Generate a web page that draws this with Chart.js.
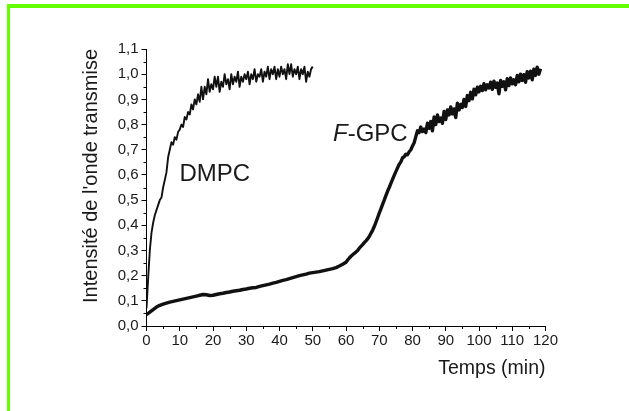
<!DOCTYPE html>
<html>
<head>
<meta charset="utf-8">
<script src="https://cdn.jsdelivr.net/npm/chart.js@4"></script>
<style>
  html, body { margin: 0; padding: 0; background: #fff; }
  #frame { position: absolute; left: 7px; top: 4px; width: 622px; height: 407px;
           border-top: 4px solid #63ff00; border-left: 3px solid #63ff00; box-sizing: border-box; }
  #c { position: absolute; left: 0; top: 0; }
</style>
</head>
<body>
<div id="frame"></div>
<canvas id="c" width="629" height="411"></canvas>
<script>
// DMPC, sampled every 0.5 min
const dmpcTimes = [
  0, 0.5, 1, 1.5, 2, 2.5, 3, 3.5, 4, 4.5, 5, 5.5, 6, 6.5, 7, 7.5, 8, 8.5, 9, 9.5,
  10, 10.5, 11, 11.5, 12, 12.5, 13, 13.5, 14, 14.5, 15, 15.5, 16, 16.5, 17, 17.5, 18, 18.5, 19, 19.5,
  20, 20.5, 21, 21.5, 22, 22.5, 23, 23.5, 24, 24.5, 25, 25.5, 26, 26.5, 27, 27.5, 28, 28.5, 29, 29.5,
  30, 30.5, 31, 31.5, 32, 32.5, 33, 33.5, 34, 34.5, 35, 35.5, 36, 36.5, 37, 37.5, 38, 38.5, 39, 39.5,
  40, 40.5, 41, 41.5, 42, 42.5, 43, 43.5, 44, 44.5, 45, 45.5, 46, 46.5, 47, 47.5, 48, 48.5, 49, 49.5,
  50
];
const dmpcValues = [
  0.07, 0.19, 0.30, 0.37, 0.41, 0.44, 0.46, 0.48, 0.50, 0.51, 0.55, 0.58, 0.61, 0.67, 0.70, 0.73, 0.72, 0.75, 0.74, 0.77,
  0.78, 0.80, 0.79, 0.83, 0.82, 0.85, 0.84, 0.88, 0.86, 0.90, 0.88, 0.92, 0.89, 0.95, 0.90, 0.95, 0.92, 0.98, 0.93, 0.96,
  0.94, 0.99, 0.95, 0.99, 0.93, 0.97, 0.95, 1.00, 0.96, 0.98, 0.94, 1.00, 0.96, 0.99, 0.97, 1.01, 0.95, 0.99, 0.97, 1.00,
  0.98, 1.01, 0.96, 1.00, 0.98, 1.02, 0.97, 1.00, 0.99, 1.02, 0.97, 1.01, 0.99, 1.03, 0.98, 1.02, 1.00, 1.03, 0.98, 1.02,
  0.99, 1.03, 1.00, 1.02, 0.98, 1.04, 1.00, 1.04, 0.99, 1.02, 1.00, 1.03, 0.98, 1.02, 1.00, 1.03, 0.97, 1.01, 0.99, 1.02,
  1.03
];

// F-GPC, every 1 min up to 60, then every 0.5 min
const fgpcTimes = [
  0, 1, 2, 3, 4, 5, 6, 7, 8, 9, 10, 11, 12, 13, 14, 15, 16, 17, 18, 19,
  20, 21, 22, 23, 24, 25, 26, 27, 28, 29, 30, 31, 32, 33, 34, 35, 36, 37, 38, 39,
  40, 41, 42, 43, 44, 45, 46, 47, 48, 49, 50, 51, 52, 53, 54, 55, 56, 57, 58, 59,
  60, 60.5, 61, 61.5, 62, 62.5, 63, 63.5, 64, 64.5, 65, 65.5, 66, 66.5, 67, 67.5, 68, 68.5, 69, 69.5,
  70, 70.5, 71, 71.5, 72, 72.5, 73, 73.5, 74, 74.5, 75, 75.5, 76, 76.5, 77, 77.5, 78, 78.5, 79, 79.5,
  80, 80.5, 81, 81.5, 82, 82.5, 83, 83.5, 84, 84.5, 85, 85.5, 86, 86.5, 87, 87.5, 88, 88.5, 89, 89.5,
  90, 90.5, 91, 91.5, 92, 92.5, 93, 93.5, 94, 94.5, 95, 95.5, 96, 96.5, 97, 97.5, 98, 98.5, 99, 99.5,
  100, 100.5, 101, 101.5, 102, 102.5, 103, 103.5, 104, 104.5, 105, 105.5, 106, 106.5, 107, 107.5, 108, 108.5, 109, 109.5,
  110, 110.5, 111, 111.5, 112, 112.5, 113, 113.5, 114, 114.5, 115, 115.5, 116, 116.5, 117, 117.5, 118, 118.5
];
const fgpcValues = [
  0.045, 0.055, 0.065, 0.075, 0.082, 0.087, 0.091, 0.095, 0.098, 0.101, 0.104, 0.107, 0.110, 0.113, 0.116, 0.119, 0.122, 0.125, 0.124, 0.121,
  0.122, 0.125, 0.128, 0.130, 0.133, 0.135, 0.138, 0.140, 0.142, 0.145, 0.147, 0.150, 0.152, 0.153, 0.157, 0.160, 0.163, 0.166, 0.170, 0.173,
  0.177, 0.181, 0.184, 0.188, 0.192, 0.196, 0.200, 0.203, 0.206, 0.210, 0.212, 0.214, 0.216, 0.219, 0.222, 0.225, 0.228, 0.232, 0.238, 0.245,
  0.253, 0.262, 0.270, 0.277, 0.283, 0.288, 0.294, 0.300, 0.309, 0.316, 0.323, 0.331, 0.338, 0.346, 0.355, 0.368, 0.380, 0.395, 0.412, 0.430,
  0.448, 0.465, 0.483, 0.500, 0.518, 0.535, 0.550, 0.566, 0.582, 0.598, 0.613, 0.628, 0.642, 0.652, 0.668, 0.672, 0.682, 0.680, 0.692, 0.700,
  0.715, 0.728, 0.752, 0.775, 0.768, 0.790, 0.772, 0.782, 0.768, 0.805, 0.785, 0.812, 0.775, 0.830, 0.800, 0.838, 0.812, 0.826, 0.805, 0.852,
  0.820, 0.858, 0.838, 0.870, 0.842, 0.862, 0.828, 0.885, 0.858, 0.880, 0.868, 0.900, 0.872, 0.915, 0.895, 0.928, 0.902, 0.940, 0.918, 0.948,
  0.930, 0.952, 0.935, 0.962, 0.938, 0.958, 0.945, 0.968, 0.940, 0.972, 0.948, 0.965, 0.922, 0.975, 0.952, 0.970, 0.938, 0.982, 0.955, 0.985,
  0.962, 0.978, 0.958, 0.995, 0.970, 1.000, 0.975, 0.998, 0.968, 1.010, 0.985, 1.012, 0.978, 1.020, 0.995, 1.028, 1.000, 1.022
];

// curve labels, anchored in data units (left edge, baseline)
const curveLabels = [
  { italic: '', text: 'DMPC', t: 9.9, v: 0.576 },
  { italic: 'F', text: '-GPC', t: 56.1, v: 0.736 }
];

const FONT = '"Liberation Sans", Arial, Helvetica, sans-serif';
const INK = '#1a1a1a';

function toPoints(times, values) {
  return times.map((t, i) => ({ x: t, y: values[i] }));
}

const minorTicks = {
  id: 'minorTicks',
  afterDraw(chart) {
    const { ctx, scales: { x, y } } = chart;
    ctx.save();
    ctx.strokeStyle = '#000';
    ctx.lineWidth = 1;
    ctx.beginPath();
    for (let v = 5; v < 120; v += 10) {
      const px = Math.round(x.getPixelForValue(v)) + 0.5;
      ctx.moveTo(px, x.top);
      ctx.lineTo(px, x.top + 3);
    }
    for (let k = 0; k < 11; k++) {
      const py = Math.round(y.getPixelForValue(k * 0.1 + 0.05)) + 0.5;
      ctx.moveTo(y.right, py);
      ctx.lineTo(y.right - 3, py);
    }
    ctx.stroke();
    ctx.restore();
  }
};

const curveText = {
  id: 'curveText',
  afterDatasetsDraw(chart) {
    const { ctx, scales: { x, y } } = chart;
    ctx.save();
    ctx.fillStyle = INK;
    ctx.textBaseline = 'alphabetic';
    curveLabels.forEach(l => {
      let px = x.getPixelForValue(l.t);
      const py = y.getPixelForValue(l.v);
      if (l.italic) {
        ctx.font = 'italic 24px ' + FONT;
        ctx.fillText(l.italic, px, py);
        px += ctx.measureText(l.italic).width;
      }
      ctx.font = '24px ' + FONT;
      ctx.fillText(l.text, px, py);
    });
    ctx.restore();
  }
};

new Chart(document.getElementById('c'), {
  type: 'line',
  data: {
    datasets: [
      { label: 'DMPC', data: toPoints(dmpcTimes, dmpcValues), borderColor: '#111', borderWidth: 1.9 },
      { label: 'F-GPC', data: toPoints(fgpcTimes, fgpcValues), borderColor: '#111', borderWidth: 3.4 }
    ]
  },
  options: {
    responsive: false,
    animation: false,
    devicePixelRatio: 1,
    layout: { padding: { left: 0, top: 49, right: 83.5, bottom: 0 } },
    elements: { point: { radius: 0 }, line: { tension: 0, borderJoinStyle: 'round' } },
    plugins: { legend: { display: false }, tooltip: { enabled: false } },
    scales: {
      x: {
        type: 'linear', min: 0, max: 120,
        afterFit: s => { s.height = 85; },
        ticks: { stepSize: 10, color: INK, font: { family: FONT, size: 15 }, padding: 1, maxRotation: 0 },
        grid: { drawOnChartArea: false, drawTicks: true, tickLength: 5, tickColor: '#000' },
        border: { display: true, color: '#000', width: 1 },
        title: { display: true, text: 'Temps (min)', align: 'end', color: INK,
                 font: { family: FONT, size: 19.5 }, padding: { top: 0, bottom: 31 } }
      },
      y: {
        type: 'linear', min: 0, max: 1.1,
        afterFit: s => { s.width = 146.5; },
        ticks: { stepSize: 0.1, color: INK, font: { family: FONT, size: 15 }, padding: 3,
                 callback: v => v.toFixed(1).replace('.', ',') },
        grid: { drawOnChartArea: false, drawTicks: true, tickLength: 5, tickColor: '#000' },
        border: { display: true, color: '#000', width: 1 },
        title: { display: true, text: "Intensité de l'onde transmise", align: 'end', color: INK,
                 font: { family: FONT, size: 20 }, padding: { top: 79, bottom: 0 } }
      }
    }
  },
  plugins: [minorTicks, curveText]
});
</script>
</body>
</html>
